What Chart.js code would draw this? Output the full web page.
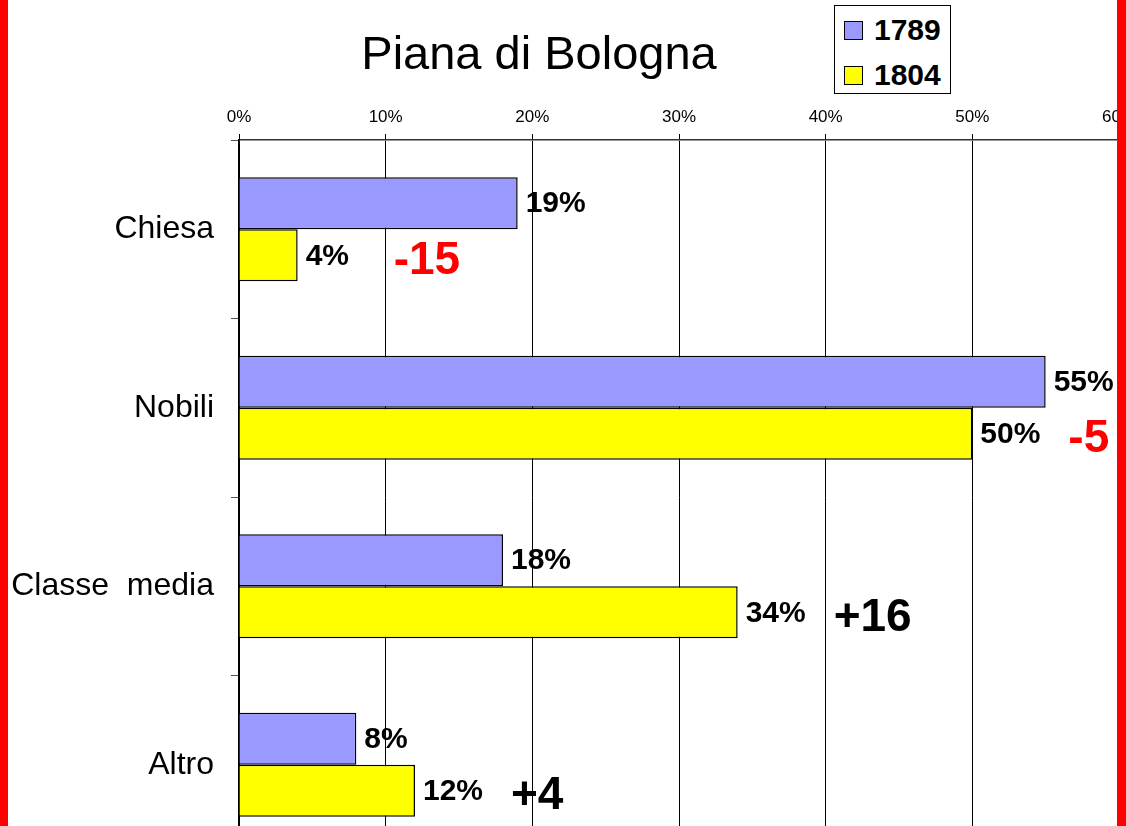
<!DOCTYPE html>
<html>
<head>
<meta charset="utf-8">
<script src="https://cdn.jsdelivr.net/npm/chart.js@4/dist/chart.umd.min.js"></script>
<style>
body { margin: 0; background: #fff; font-family: "Liberation Sans", Arial, sans-serif; }
.wrap { position: relative; width: 1126px; height: 826px; overflow: hidden; }
.red-l { position: absolute; left: 0; top: 0; width: 8px; height: 826px; background: #ff0000; }
.red-r { position: absolute; left: 1117px; top: 0; width: 9px; height: 826px; background: #ff0000; }
.legend { position: absolute; left: 834px; top: 5px; width: 115px; height: 87px; border: 1px solid #000; background: #fff; }
.legend div { display: flex; align-items: center; height: 30px; margin: 9px 0 0 9px; font: bold 30px "Liberation Sans", Arial, sans-serif; }
.legend div + div { margin-top: 15px; }
.legend span { display: inline-block; width: 17px; height: 17px; border: 1px solid #000; margin-right: 11px; }
</style>
</head>
<body>
<div class="wrap">
	<canvas id="chart" width="1126" height="860"></canvas>
	<div class="legend" id="legend"></div>
	<div class="red-l"></div>
	<div class="red-r"></div>
</div>
<script>
var categories = ['Chiesa', 'Nobili', 'Classe  media', 'Altro'];
var years = ['1789', '1804'];
var values1789 = [19, 55, 18, 8];
var values1804 = [4, 50, 34, 12];
var xTicks = [0, 10, 20, 30, 40, 50, 60];
var colors = ['#9999FF', '#FFFF00'];

var font = '"Liberation Sans", Arial, sans-serif';

var labelsPlugin = {
	id: 'labels',
	afterDatasetsDraw: function(chart) {
		var ctx = chart.ctx;
		ctx.save();
		// value labels
		ctx.font = 'bold 30px ' + font;
		ctx.fillStyle = '#000';
		ctx.textAlign = 'left';
		ctx.textBaseline = 'middle';
		chart.data.datasets.forEach(function(ds, i) {
			chart.getDatasetMeta(i).data.forEach(function(bar, j) {
				ctx.fillText(ds.data[j] + '%', bar.x + 8, bar.y + 1);
			});
		});
		// difference labels
		ctx.font = 'bold 46px ' + font;
		var later = chart.getDatasetMeta(1).data;
		values1804.forEach(function(v, j) {
			var diff = v - values1789[j];
			ctx.fillStyle = diff < 0 ? '#ff0000' : '#000';
			ctx.fillText((diff > 0 ? '+' : '') + diff, later[j].x + 96, later[j].y + 6);
		});
		// title
		ctx.font = '47px ' + font;
		ctx.fillStyle = '#000';
		ctx.textAlign = 'center';
		ctx.fillText('Piana di Bologna', 539, 56);
		ctx.restore();
	}
};

var chart = new Chart(document.getElementById('chart'), {
	type: 'bar',
	data: {
		labels: categories,
		datasets: [
			{
				label: years[0],
				data: values1789,
				backgroundColor: colors[0],
				borderColor: '#000',
				borderWidth: 1.5
			},
			{
				label: years[1],
				data: values1804,
				backgroundColor: colors[1],
				borderColor: '#000',
				borderWidth: 1.5
			}
		]
	},
	options: {
		indexAxis: 'y',
		responsive: false,
		animation: false,
		devicePixelRatio: 1,
		categoryPercentage: 0.583,
		barPercentage: 1,
		layout: { padding: { top: 107, left: 0, right: 7, bottom: 6 } },
		plugins: {
			legend: { display: false },
			tooltip: { enabled: false }
		},
		scales: {
			x: {
				position: 'top',
				min: 0,
				max: 60,
				afterFit: function(s) { s.height = 33; s.paddingLeft = 0; s.paddingRight = 0; },
				afterBuildTicks: function(s) { s.ticks = xTicks.map(function(v) { return { value: v }; }); },
				ticks: {
					color: '#000',
					font: { family: font, size: 17 },
					padding: 6,
					callback: function(v) { return v + '%'; }
				},
				grid: { color: '#000', lineWidth: 1, tickLength: 6 },
				border: { color: '#333', width: 1.5 }
			},
			y: {
				afterFit: function(s) { s.width = 239; s.paddingTop = 0; s.paddingBottom = 0; },
				ticks: {
					color: '#000',
					font: { family: font, size: 32 },
					padding: 17
				},
				grid: { drawOnChartArea: false, color: '#555', tickLength: 8 },
				border: { color: '#000', width: 1.5 }
			}
		}
	},
	plugins: [labelsPlugin]
});

var legend = document.getElementById('legend');
chart.data.datasets.forEach(function(ds) {
	legend.innerHTML += '<div><span style="background:' + ds.backgroundColor + '"></span>' + ds.label + '</div>';
});
</script>
</body>
</html>
